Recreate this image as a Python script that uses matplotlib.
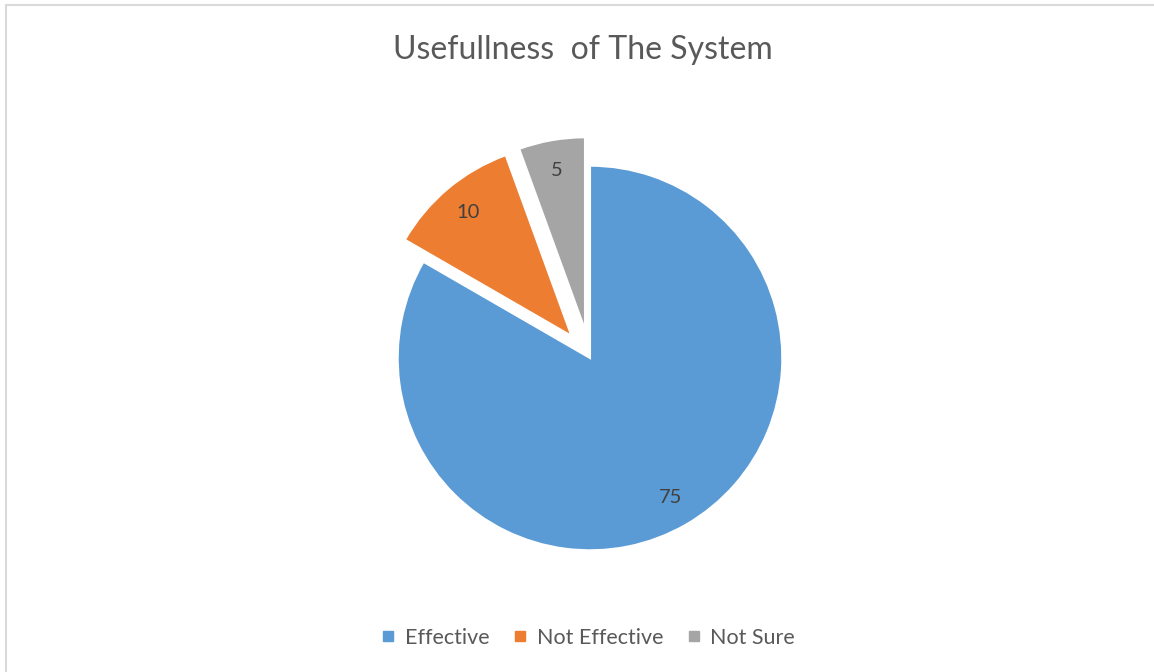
import matplotlib.pyplot as plt
from matplotlib.lines import Line2D

plt.rcParams['font.family'] = ['Lato', 'DejaVu Sans']

# chart data
labels = ["Effective", "Not Effective", "Not Sure"]
values = [75, 10, 5]
colors = ["#5B9BD5", "#ED7D31", "#A5A5A5"]
explode = [0, 0.15, 0.15]

W, H = 1154, 672
fig = plt.figure(figsize=(W / 100, H / 100), dpi=100)

# square axes around the pie centre
cx, cy, side = 590, 358, 500
ax = fig.add_axes([(cx - side / 2) / W, (H - cy - side / 2) / H, side / W, side / H])
ax.pie(values, colors=colors, explode=explode, startangle=90, counterclock=False,
       autopct=lambda p: f"{p * sum(values) / 100:.0f}", pctdistance=0.84,
       wedgeprops=dict(edgecolor="white", linewidth=1.5),
       textprops=dict(color="#404040", fontsize=14.5))
ax.set_xlim(-1.3, 1.3)
ax.set_ylim(-1.3, 1.3)
ax.set_aspect("equal")
ax.axis("off")

fig.text(583 / W, 1 - 50 / H, "Usefullness  of The System", ha="center", va="center",
         fontsize=23, color="#595959")

handles = [Line2D([], [], marker="s", linestyle="none", markersize=7,
                  markerfacecolor=c, markeredgecolor=c) for c in colors]
fig.legend(handles, labels, ncol=3, loc="center", bbox_to_anchor=(588 / W, 1 - 638 / H),
           frameon=False, fontsize=15.5, labelcolor="#595959", handlelength=0.7,
           handletextpad=0.4, columnspacing=1.1)

# light frame on the top and left edges
fig.add_artist(Line2D([6 / W, 1], [1 - 5 / H, 1 - 5 / H], color="#d9d9d9", lw=1.5))
fig.add_artist(Line2D([6 / W, 6 / W], [0, 1 - 5 / H], color="#d9d9d9", lw=1.5))

fig.savefig("out.png", dpi=100)
